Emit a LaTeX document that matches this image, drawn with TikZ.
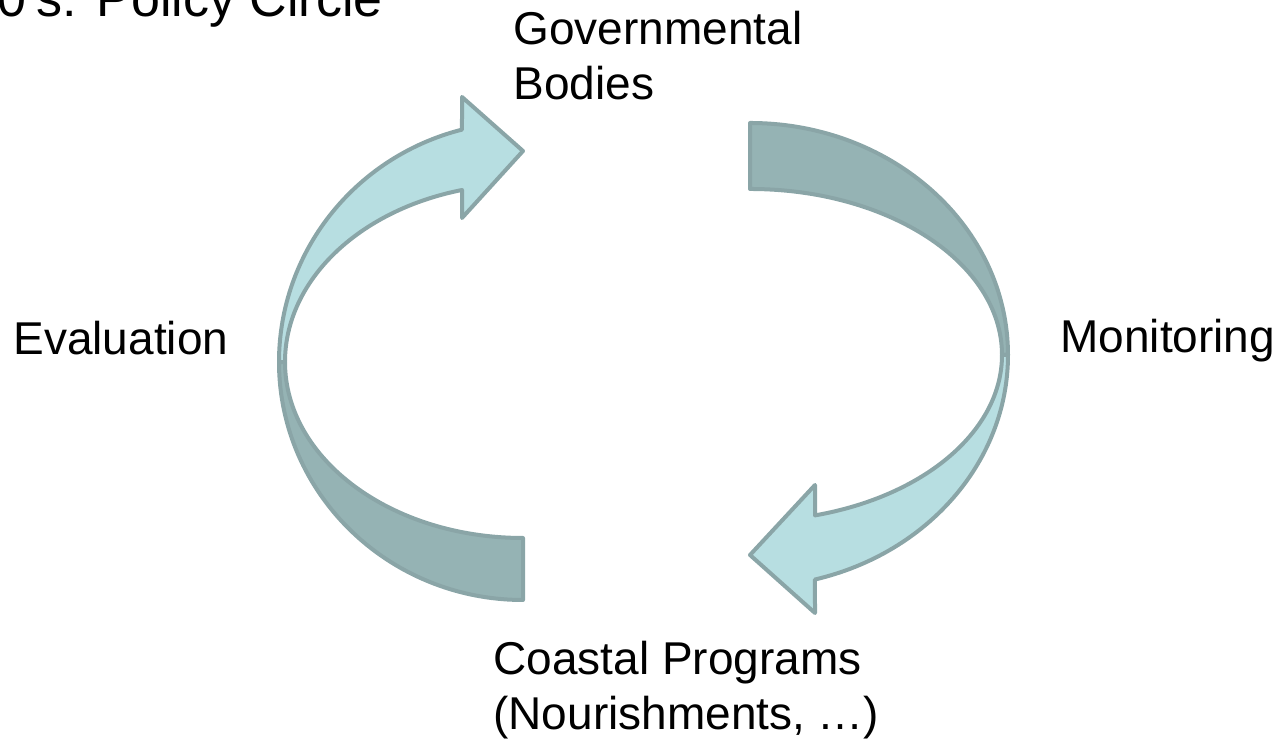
\documentclass[tikz,border=0pt]{standalone}
\usepackage{fontspec}
\newfontfamily\arialfont{Liberation Sans}
\definecolor{arrowlight}{RGB}{183,222,225}
\definecolor{arrowdark}{RGB}{149,179,180}
\definecolor{arrowline}{RGB}{138,165,167}

\begin{document}
\begin{tikzpicture}[x=0.5pt,y=0.5pt,
    lightpart/.style={fill=arrowlight,draw=arrowline,line width=2pt,line join=round},
    darkpart/.style={fill=arrowdark,draw=arrowline,line width=2pt,line join=round},
    cycletext/.style={inner sep=0pt,font=\arialfont\fontsize{23}{27.5}\selectfont,align=left}]
    \useasboundingbox (0,0) rectangle (1282,742);
    \clip (0,0) rectangle (1282,742);
    % centres of the two curved arrows
    \coordinate (L) at (523,380);
    \coordinate (R) at (750,387);
    % left arrow, back part
    \draw[darkpart] (L) ++(-244,0) arc[start angle=180,end angle=270,x radius=244,y radius=238]
        -- ++(0,62) arc[start angle=270,end angle=180,x radius=238,y radius=176] -- cycle;
    % left arrow, front part with head
    \draw[lightpart] (L) ++(-244,0) arc[start angle=180,end angle=104.48,x radius=244,y radius=240]
        -- (462,645) -- (523,591) -- (462,524) -- (462,552)
        arc[start angle=104.85,end angle=180,x radius=238,y radius=178] -- cycle;
    % right arrow, back part
    \draw[darkpart] (R) ++(0,232) arc[start angle=90,end angle=0,x radius=258,y radius=232]
        -- ++(-6,0) arc[start angle=0,end angle=90,x radius=252,y radius=166] -- cycle;
    % right arrow, front part with head
    \draw[lightpart] (R) ++(258,0) arc[start angle=0,end angle=-75.41,x radius=258,y radius=232]
        -- (815,129) -- (750,187) -- (815,257) -- (815,226.6)
        arc[start angle=-75.05,end angle=0,x radius=252,y radius=166] -- cycle;
    % texts (base = last line)
    \node[cycletext,anchor=base east,font=\arialfont\fontsize{26}{31}\selectfont] (title) at (383,725) {0's: Policy Circle};
    \node[cycletext,anchor=base west] (bodies) at (513,642) {Governmental\\Bodies};
    \node[cycletext,anchor=base west] (evaluation) at (13,387) {Evaluation};
    \node[cycletext,anchor=base west] (monitoring) at (1060,389) {Monitoring};
    \node[cycletext,anchor=base west] (programs) at (493,12) {Coastal Programs\\(Nourishments, …)};
\end{tikzpicture}
\end{document}
